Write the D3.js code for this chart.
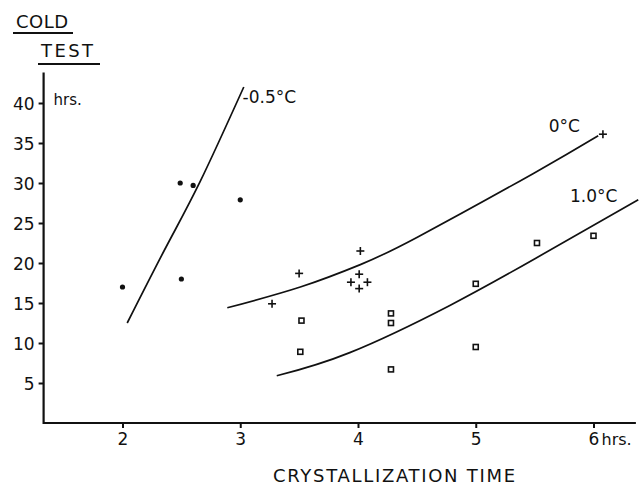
<!DOCTYPE html>
<html lang="en">
<head>
<meta charset="utf-8"/>
<title>Cold test vs crystallization time</title>
<script src="https://d3js.org/d3.v7.min.js"></script>
<style>
body { margin: 0; background: #fff; }
text { font-family: "DejaVu Sans", sans-serif; fill: #111; }
.tick text { font-size: 17px; }
.axis path, .axis line { stroke: #111; stroke-width: 2; }
.axisLine { stroke: #111; stroke-width: 2.2; }
.curve { fill: none; stroke: #111; stroke-width: 1.7; }
.dot { fill: #111; }
.plus { stroke: #111; stroke-width: 1.6; }
.square { fill: #fff; stroke: #111; stroke-width: 1.6; }
.curveLabel { font-size: 17px; }
.title { font-size: 18px; }
</style>
</head>
<body>
<div id="chart"></div>
<script>
// values (x = crystallization time hrs, y = cold test hrs)
var xTicks = [2, 3, 4, 5, 6];
var yTicks = [5, 10, 15, 20, 25, 30, 35, 40];

var dotsMinus05 = [[2.0, 17], [2.49, 30], [2.6, 29.7], [3.0, 27.9], [2.5, 18]];
var plusZero = [[3.27, 14.9], [3.5, 18.7], [3.94, 17.6], [4.01, 18.6], [4.02, 21.5],
                [4.08, 17.6], [4.01, 16.8], [6.08, 36.1]];
var squaresOne = [[3.52, 12.8], [3.51, 8.9], [4.28, 13.7], [4.28, 12.5], [4.28, 6.7],
                  [5.0, 17.4], [5.0, 9.5], [5.52, 22.5], [6.0, 23.4]];

var curveMinus05 = [[2.04, 12.5], [2.37, 22], [2.66, 30.2], [3.03, 42]];
var curveZero = [[2.89, 14.4], [3.51, 17.0], [4.02, 19.8], [4.5, 23.2], [5.49, 31.2], [6.04, 35.9]];
var curveOne = [[3.31, 5.9], [3.93, 8.8], [4.78, 14.7], [5.51, 20.6], [6.38, 27.9]];

var curveLabels = [
  {text: "-0.5°C", x: 3.02, y: 40.0},
  {text: "0°C", x: 5.62, y: 36.4},
  {text: "1.0°C", x: 5.8, y: 27.6}
];

var w = 639, h = 485;

var svg = d3.select("#chart").append("svg")
    .attr("width", w).attr("height", h);

var xScale = d3.scaleLinear().domain([2, 6]).range([122.5, 593.5]);
var yScale = d3.scaleLinear().domain([0, 40]).range([423, 103]);

// axis lines
svg.append("line").attr("class", "axisLine")
   .attr("x1", xScale(1.33)).attr("x2", xScale(1.33))
   .attr("y1", yScale(0) + 1).attr("y2", yScale(43.8));
svg.append("line").attr("class", "axisLine")
   .attr("x1", xScale(1.33)).attr("x2", xScale(6.36))
   .attr("y1", yScale(0)).attr("y2", yScale(0));

var yAxis = d3.axisLeft(yScale).tickValues(yTicks).tickSize(5).tickPadding(4)
    .tickFormat(function(d){ return d; });
var gy = svg.append("g").attr("class", "axis")
   .attr("transform", "translate(" + xScale(1.33) + ",0)")
   .call(yAxis);
gy.select(".domain").remove();
gy.selectAll(".tick text").attr("dy", "0.36em");

var xAxis = d3.axisBottom(xScale).tickValues(xTicks).tickSize(5).tickPadding(5)
    .tickFormat(function(d){ return d; });
var gx = svg.append("g").attr("class", "axis")
   .attr("transform", "translate(0," + yScale(0) + ")")
   .call(xAxis);
gx.select(".domain").remove();

// units
svg.append("text").attr("x", xScale(6) + 8).attr("y", yScale(0) + 22)
   .style("font-size", "16px").text("hrs.");
svg.append("text").attr("x", xScale(1.33) + 10).attr("y", yScale(40) + 2)
   .style("font-size", "15px").text("hrs.");

// titles
svg.append("text").attr("class", "title").attr("x", 16).attr("y", 28)
   .attr("textLength", 52).text("COLD");
svg.append("line").attr("class", "axisLine").attr("x1", 13).attr("x2", 73)
   .attr("y1", 33).attr("y2", 33);
svg.append("text").attr("class", "title").attr("x", 41).attr("y", 57)
   .attr("textLength", 52).text("TEST");
svg.append("line").attr("class", "axisLine").attr("x1", 38).attr("x2", 100)
   .attr("y1", 64).attr("y2", 64);
svg.append("text").attr("class", "title").attr("x", 273).attr("y", 482)
   .attr("textLength", 242).text("CRYSTALLIZATION  TIME");

// fitted curves
var line = d3.line()
    .x(function(d){ return xScale(d[0]); })
    .y(function(d){ return yScale(d[1]); })
    .curve(d3.curveNatural);

[curveMinus05, curveZero, curveOne].forEach(function(c){
  svg.append("path").datum(c).attr("class", "curve").attr("d", line);
});

svg.selectAll(".curveLabel").data(curveLabels).enter().append("text")
   .attr("class", "curveLabel")
   .attr("x", function(d){ return xScale(d.x); })
   .attr("y", function(d){ return yScale(d.y); })
   .text(function(d){ return d.text; });

// points
svg.selectAll(".dot").data(dotsMinus05).enter().append("circle")
   .attr("class", "dot")
   .attr("cx", function(d){ return xScale(d[0]); })
   .attr("cy", function(d){ return yScale(d[1]); })
   .attr("r", 2.6);

var plus = svg.selectAll(".plusG").data(plusZero).enter().append("g")
   .attr("transform", function(d){ return "translate(" + xScale(d[0]) + "," + yScale(d[1]) + ")"; });
plus.append("line").attr("class", "plus").attr("x1", -4).attr("x2", 4);
plus.append("line").attr("class", "plus").attr("y1", -4).attr("y2", 4);

svg.selectAll(".square").data(squaresOne).enter().append("rect")
   .attr("class", "square")
   .attr("x", function(d){ return xScale(d[0]) - 2.5; })
   .attr("y", function(d){ return yScale(d[1]) - 2.5; })
   .attr("width", 5).attr("height", 5);
</script>
</body>
</html>
